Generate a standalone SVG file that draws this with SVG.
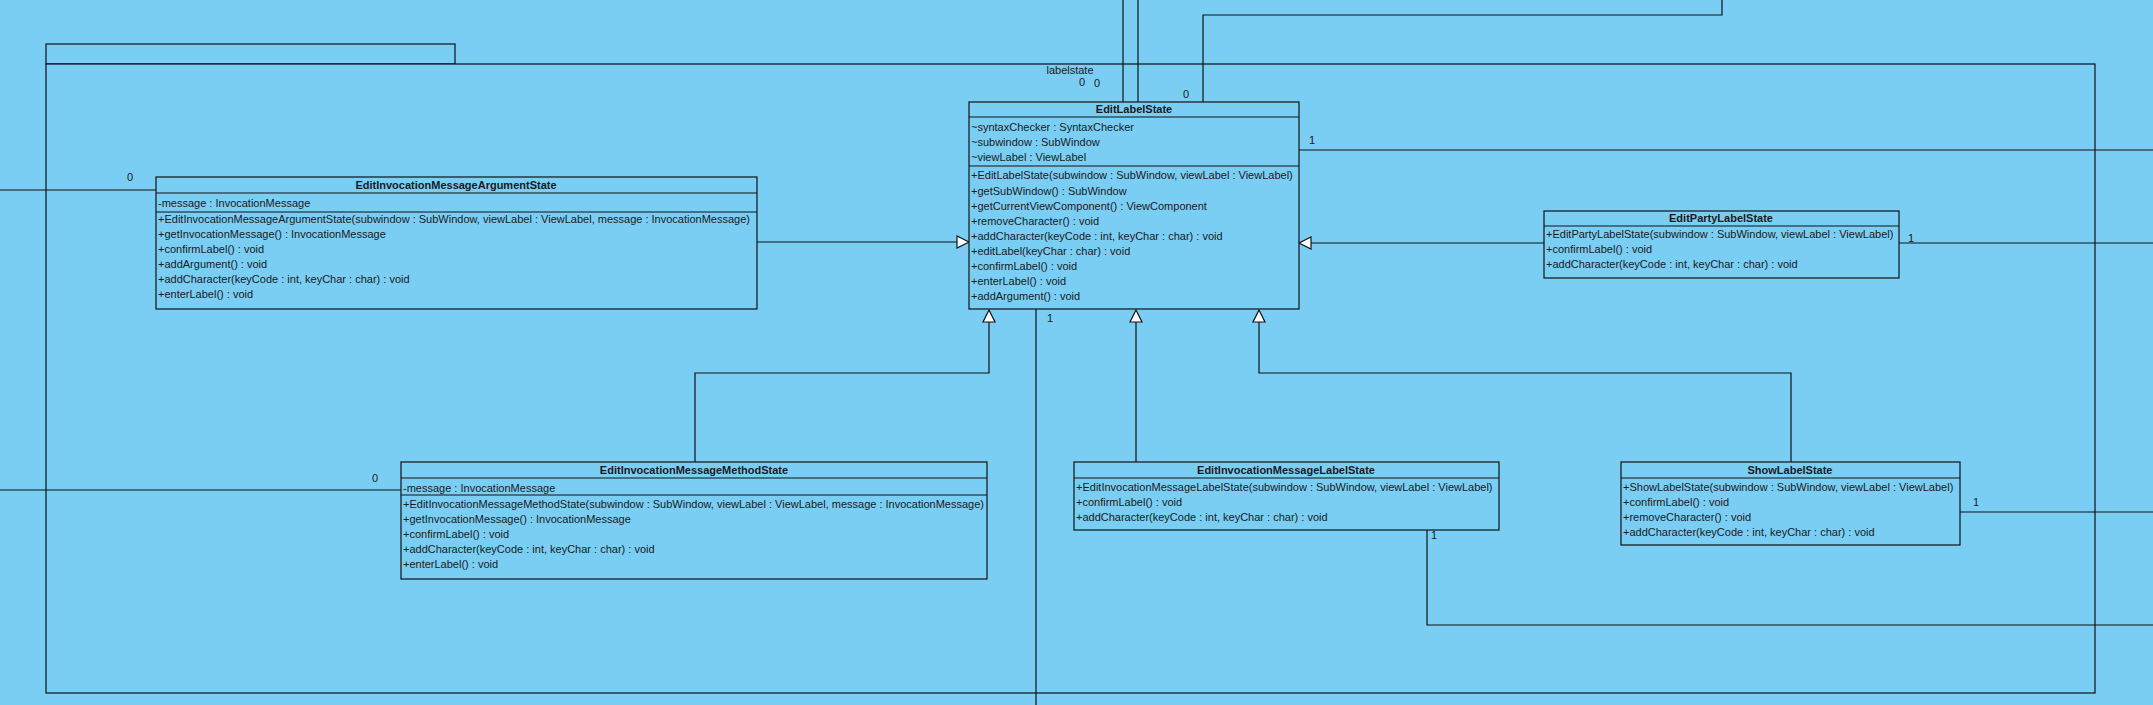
<svg xmlns="http://www.w3.org/2000/svg" width="2153" height="705" viewBox="0 0 2153 705">
<defs>
<style>
.bg{fill:#7acef4}
.box{fill:#7acef4;stroke:#111;stroke-width:1.2}
.ln{fill:none;stroke:#111;stroke-width:1.2}
.tri{fill:#fff;stroke:#111;stroke-width:1.2}
text{font-family:"Liberation Sans",Arial,sans-serif;font-size:11px;fill:#1a1a1a}
.t{font-weight:bold;text-anchor:middle}
.c{text-anchor:middle}
</style>
</defs>
<rect class="bg" x="0" y="0" width="2153" height="705"/>
<g id="package-labelstate">
<rect class="box" x="46" y="44" width="409" height="20"/>
<rect class="box" x="46" y="64" width="2049" height="629"/>
<text class="c" x="1070" y="74">labelstate</text>
</g>
<g id="connectors">
<path class="ln" d="M757,242H957"/>
<path class="tri" d="M969,242L957,236V248Z"/>
<path class="ln" d="M1544,243H1311"/>
<path class="tri" d="M1299,243L1311,237V249Z"/>
<path class="ln" d="M695,462V373H989V322"/>
<path class="tri" d="M989,310L983,322H995Z"/>
<path class="ln" d="M1136,462V322"/>
<path class="tri" d="M1136,310L1130,322H1142Z"/>
<path class="ln" d="M1791,462V373H1259V322"/>
<path class="tri" d="M1259,310L1253,322H1265Z"/>
<path class="ln" d="M1123,0V102"/>
<path class="ln" d="M1138,0V102"/>
<path class="ln" d="M1203,102V15H1722V0"/>
<path class="ln" d="M1299,150H2153"/>
<path class="ln" d="M0,190H156"/>
<path class="ln" d="M0,490H401"/>
<path class="ln" d="M1036,309V705"/>
<path class="ln" d="M1899,243H2153"/>
<path class="ln" d="M1960,512H2153"/>
<path class="ln" d="M1427,530V625H2153"/>
<text x="1079" y="86">0</text>
<text x="1094" y="87">0</text>
<text x="1183" y="98">0</text>
<text x="1309" y="144">1</text>
<text x="1047" y="322">1</text>
<text x="127" y="181">0</text>
<text x="372" y="482">0</text>
<text x="1908" y="242">1</text>
<text x="1973" y="506">1</text>
<text x="1431" y="539">1</text>
</g>
<g id="EditLabelState">
<rect class="box" x="969" y="102" width="330" height="207"/>
<path class="ln" d="M969,117H1299M969,166H1299"/>
<text class="t" x="1134" y="113">EditLabelState</text>
<text x="971" y="131">~syntaxChecker : SyntaxChecker</text>
<text x="971" y="146">~subwindow : SubWindow</text>
<text x="971" y="161">~viewLabel : ViewLabel</text>
<text x="971" y="179">+EditLabelState(subwindow : SubWindow, viewLabel : ViewLabel)</text>
<text x="971" y="195">+getSubWindow() : SubWindow</text>
<text x="971" y="210">+getCurrentViewComponent() : ViewComponent</text>
<text x="971" y="225">+removeCharacter() : void</text>
<text x="971" y="240">+addCharacter(keyCode : int, keyChar : char) : void</text>
<text x="971" y="255">+editLabel(keyChar : char) : void</text>
<text x="971" y="270">+confirmLabel() : void</text>
<text x="971" y="285">+enterLabel() : void</text>
<text x="971" y="300">+addArgument() : void</text>
</g>
<g id="EditInvocationMessageArgumentState">
<rect class="box" x="156" y="177" width="601" height="132"/>
<path class="ln" d="M156,193H757M156,212H757"/>
<text class="t" x="456" y="189">EditInvocationMessageArgumentState</text>
<text x="158" y="207">-message : InvocationMessage</text>
<text x="158" y="223">+EditInvocationMessageArgumentState(subwindow : SubWindow, viewLabel : ViewLabel, message : InvocationMessage)</text>
<text x="158" y="238">+getInvocationMessage() : InvocationMessage</text>
<text x="158" y="253">+confirmLabel() : void</text>
<text x="158" y="268">+addArgument() : void</text>
<text x="158" y="283">+addCharacter(keyCode : int, keyChar : char) : void</text>
<text x="158" y="298">+enterLabel() : void</text>
</g>
<g id="EditPartyLabelState">
<rect class="box" x="1544" y="211" width="355" height="67"/>
<path class="ln" d="M1544,226H1899"/>
<text class="t" x="1721" y="222">EditPartyLabelState</text>
<text x="1546" y="238">+EditPartyLabelState(subwindow : SubWindow, viewLabel : ViewLabel)</text>
<text x="1546" y="253">+confirmLabel() : void</text>
<text x="1546" y="268">+addCharacter(keyCode : int, keyChar : char) : void</text>
</g>
<g id="EditInvocationMessageMethodState">
<rect class="box" x="401" y="462" width="586" height="117"/>
<path class="ln" d="M401,478H987M401,495H987"/>
<text class="t" x="694" y="474">EditInvocationMessageMethodState</text>
<text x="403" y="492">-message : InvocationMessage</text>
<text x="403" y="508">+EditInvocationMessageMethodState(subwindow : SubWindow, viewLabel : ViewLabel, message : InvocationMessage)</text>
<text x="403" y="523">+getInvocationMessage() : InvocationMessage</text>
<text x="403" y="538">+confirmLabel() : void</text>
<text x="403" y="553">+addCharacter(keyCode : int, keyChar : char) : void</text>
<text x="403" y="568">+enterLabel() : void</text>
</g>
<g id="EditInvocationMessageLabelState">
<rect class="box" x="1074" y="462" width="425" height="68"/>
<path class="ln" d="M1074,478H1499"/>
<text class="t" x="1286" y="474">EditInvocationMessageLabelState</text>
<text x="1076" y="491">+EditInvocationMessageLabelState(subwindow : SubWindow, viewLabel : ViewLabel)</text>
<text x="1076" y="506">+confirmLabel() : void</text>
<text x="1076" y="521">+addCharacter(keyCode : int, keyChar : char) : void</text>
</g>
<g id="ShowLabelState">
<rect class="box" x="1621" y="462" width="339" height="83"/>
<path class="ln" d="M1621,478H1960"/>
<text class="t" x="1790" y="474">ShowLabelState</text>
<text x="1623" y="491">+ShowLabelState(subwindow : SubWindow, viewLabel : ViewLabel)</text>
<text x="1623" y="506">+confirmLabel() : void</text>
<text x="1623" y="521">+removeCharacter() : void</text>
<text x="1623" y="536">+addCharacter(keyCode : int, keyChar : char) : void</text>
</g>
</svg>
